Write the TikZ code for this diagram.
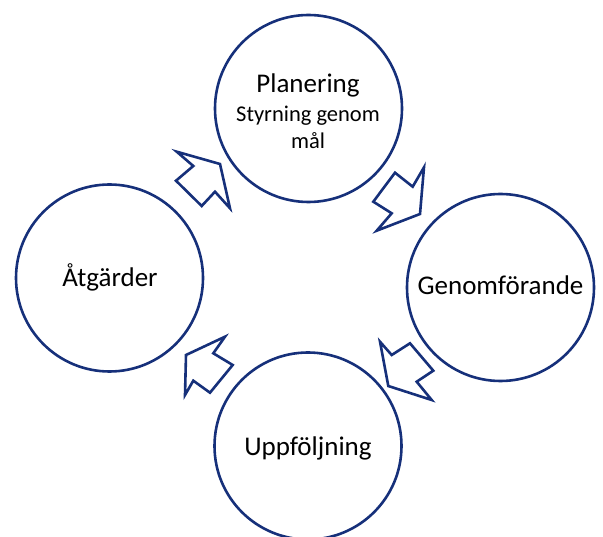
\documentclass[tikz,border=0pt]{standalone}
\usepackage{fontspec}
\setmainfont{Carlito}
\definecolor{navy}{RGB}{22,48,122}
\begin{document}
\begin{tikzpicture}[x=1pt,y=-1pt,
  ring/.style={draw=navy,line width=2.6pt,circle,minimum size=187pt,inner sep=0pt,fill=white},
  blockarrow/.style={draw=navy,line width=2.6pt,fill=white,line join=miter},
  big/.style={font=\fontsize{27}{30}\selectfont,anchor=base,inner sep=0pt},
  small/.style={font=\fontsize{22.5}{26}\selectfont,anchor=base,inner sep=0pt}]
\useasboundingbox (0,0) rectangle (603,537);
\node[ring] (plan) at (308.5,108.5) {};
\node[ring] (atg) at (109.5,278) {};
\node[ring] (gen) at (500.5,287.5) {};
\node[ring] (upp) at (308,446) {};
\node[big] (tplan) at (308,92.7) {Planering};
\node[small] (tstyr) at (308,121.7) {Styrning genom};
\node[small] (tmal) at (308,149) {mål};
\node[big] (tatg) at (110,286.7) {Åtgärder};
\node[big] (tgen) at (500.5,295) {Genomförande};
\node[big] (tupp) at (308,456) {Uppföljning};
% block arrows
\draw[blockarrow] (176.7,151.7) -- (193.3,166) -- (176,180.7) -- (201.7,206) -- (215,191.7) -- (230,208.3) -- (220,164) -- cycle;
\draw[blockarrow] (395,172.7) -- (412.7,186.7) -- (424,167.3) -- (420,214) -- (376.7,230.7) -- (391.7,213.3) -- (373.3,201.7) -- cycle;
\draw[blockarrow] (380,341.7) -- (391.7,355) -- (410,343.3) -- (433.3,370.7) -- (416.7,381.7) -- (431.7,400) -- (388.3,386) -- cycle;
\draw[blockarrow] (225,336.7) -- (213.3,353.3) -- (232.7,365) -- (210,392.7) -- (193.3,380.7) -- (185,395) -- (186,355) -- cycle;
\end{tikzpicture}
\end{document}
